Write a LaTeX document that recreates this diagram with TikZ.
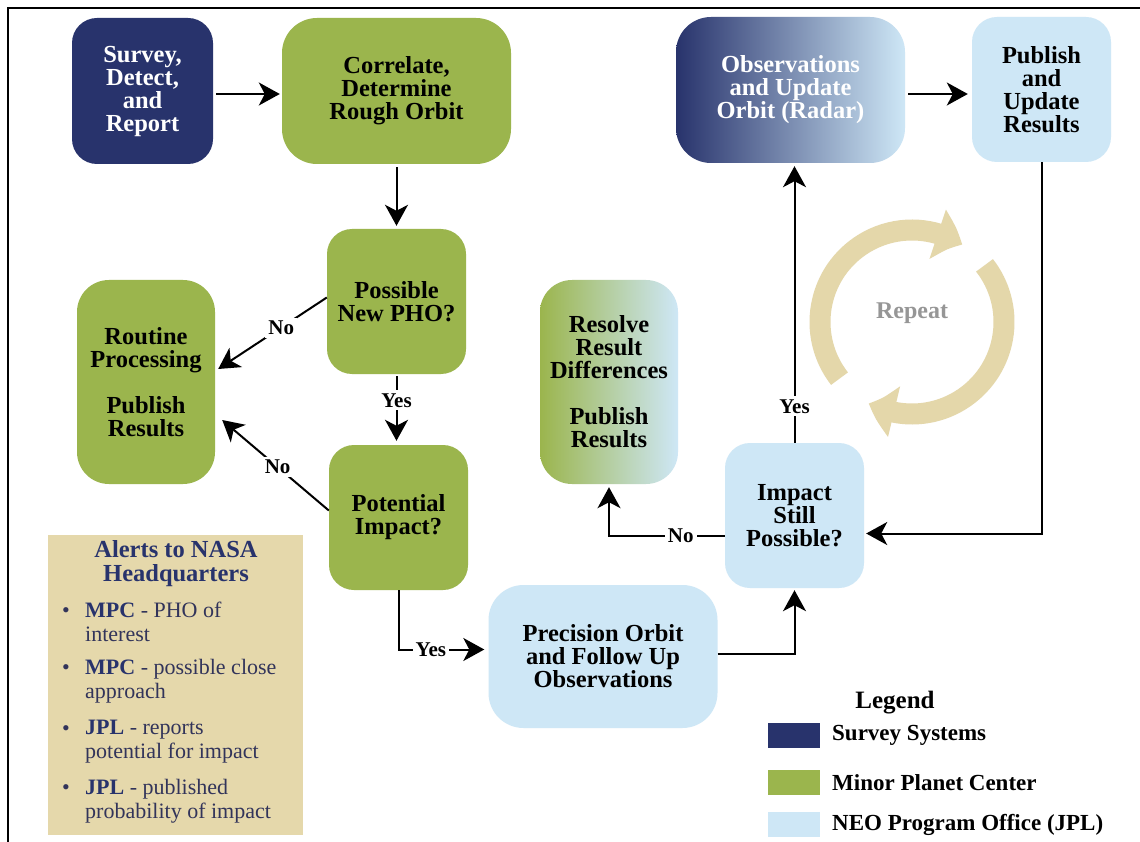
\documentclass[tikz,border=0pt]{standalone}
\usepackage{fontspec}
\setmainfont{Liberation Serif}
\usetikzlibrary{arrows.meta,calc,bending}
\definecolor{navy}{RGB}{40,51,108}
\definecolor{mpcgreen}{RGB}{155,181,77}
\definecolor{jplblue}{RGB}{206,231,246}
\definecolor{beige}{RGB}{229,216,171}
\definecolor{ringc}{RGB}{228,215,170}
\definecolor{alerttext}{RGB}{50,52,90}
\definecolor{repeatgray}{RGB}{150,150,150}
\tikzset{
  card/.style={font=\fontsize{24.5pt}{23pt}\selectfont\bfseries, align=center, inner sep=0pt, rounded corners=25pt},
  widecard/.style={card, minimum width=229pt, minimum height=146pt, rounded corners=35pt},
  smallcard/.style={card, minimum width=139pt, minimum height=145pt},
  tallcard/.style={card, minimum width=138pt, minimum height=204pt, rounded corners=32pt},
  svy/.style={fill=navy, text=white},
  mpc/.style={fill=mpcgreen, text=black},
  jpl/.style={fill=jplblue, text=black},
  arr/.style={draw=black, line width=2pt, -{Stealth[length=21pt,width=23pt,inset=6pt]}},
  lbl/.style={fill=white, inner sep=3pt, font=\fontsize{21pt}{21pt}\selectfont\bfseries},
  legtext/.style={anchor=west, inner sep=0pt, font=\fontsize{23pt}{23pt}\selectfont\bfseries},
  swatch/.style={minimum width=52pt, minimum height=25pt, inner sep=0pt},
  alertitem/.style={anchor=north west, inner sep=0pt, align=left, text=alerttext, font=\fontsize{22pt}{24pt}\selectfont},
  bulletmark/.style={anchor=base, inner sep=0pt, text=alerttext, font=\fontsize{22pt}{24pt}\selectfont},
  ring/.style={draw=ringc, line width=21pt, -{Triangle[length=27pt,width=50pt,bend]}}
}
\begin{document}
\begin{tikzpicture}[x=1pt,y=-1pt]
\useasboundingbox (0,0) rectangle (1140,842);
\fill[white] (0,0) rectangle (1140,842);
% frame
\draw[line width=2pt] (8,842) -- (8,8) -- (1140,8);

% boxes
\node[smallcard, svy, minimum width=141pt, minimum height=146pt] (survey) at (142.5,91) {Survey,\\Detect,\\and\\Report};
\node[widecard, mpc] (correlate) at (396.5,91) {Correlate,\\Determine\\Rough Orbit};
\node[smallcard, mpc] (possible) at (396.5,301.5) {Possible\\New PHO?};
\node[tallcard, mpc] (routine) at (146,382) {Routine\\Processing\\[23pt]Publish\\Results};
\node[smallcard, mpc] (potential) at (398.5,517.5) {Potential\\Impact?};
\node[widecard, jpl, minimum height=143pt] (precision) at (603,656.5) {Precision Orbit\\and Follow Up\\Observations};
\node[tallcard, left color=mpcgreen, right color=jplblue, text=black] (resolve) at (609,382) {Resolve\\Result\\Differences\\[23pt]Publish\\Results};
\node[smallcard, jpl] (impact) at (794.5,515.5) {Impact\\Still\\Possible?};
\node[widecard, left color=navy, right color=jplblue, text=white] (obs) at (790.5,90) {Observations\\and Update\\Orbit (Radar)};
\node[smallcard, jpl] (publish) at (1041.5,89.5) {Publish\\and\\Update\\Results};

% connectors
\draw[arr, shorten <=3pt, shorten >=2pt] ($(survey.east)+(0,3)$) -- ($(correlate.west)+(0,3)$);
\draw[arr, shorten <=3pt, shorten >=3pt] (correlate.south) -- (correlate.south |- possible.north);
\draw[arr] ($(possible.west)+(0,-4)$) -- node[lbl, pos=0.42] {No} ($(routine.east)+(3,-13)$);
\draw[arr, shorten <=2pt, shorten >=4pt] (possible.south) -- node[lbl, pos=0.37] {Yes} (possible.south |- potential.north);
\draw[arr] ($(potential.west)+(0,-7)$) -- node[lbl, pos=0.48] {No} ($(routine.east)+(7,38)$);
\draw[arr, shorten >=4pt] (potential.south) |- node[lbl, pos=0.68] {Yes} ($(precision.west)+(0,-7)$);
\draw[arr, shorten >=2pt] ($(precision.east)+(0,-3)$) -| (impact.south);
\draw[arr, shorten >=3pt] ($(impact.west)+(0,20)$) -| node[lbl, pos=0.19] {No} (resolve.south);
\draw[arr, shorten >=3pt] (impact.north) -- node[lbl, pos=0.13] {Yes} (impact.north |- obs.south);
\draw[arr, shorten <=3pt, shorten >=4pt] ($(obs.east)+(0,4)$) -- ($(publish.west)+(0,4.5)$);
\draw[arr, shorten >=2pt] (publish.south) |- ($(impact.east)+(0,18)$);

% repeat cycle
\coordinate (rc) at (912,322);
\draw[ring] (rc) ++(218:92pt) arc[start angle=218, end angle=57, radius=92pt];
\draw[ring] (rc) ++(38:92pt) arc[start angle=38, end angle=-118, radius=92pt];
\node[text=repeatgray, font=\fontsize{24pt}{24pt}\selectfont\bfseries] (repeat) at (912,313) {Repeat};

% alerts box
\node[fill=beige, minimum width=255pt, minimum height=300pt, anchor=north west, inner sep=0pt] (alerts) at (48,535) {};
\node[text=navy, align=center, inner sep=0pt, font=\fontsize{24.5pt}{24pt}\selectfont\bfseries] (alerttitle) at (176,564) {Alerts to NASA\\Headquarters};
\node[bulletmark] (b1) at (66,617) {•};
\node[alertitem] (a1) at (85,602) {\textbf{\color{navy}MPC} - PHO of\\interest};
\node[bulletmark] (b2) at (66,674) {•};
\node[alertitem] (a2) at (85,659) {\textbf{\color{navy}MPC} - possible close\\approach};
\node[bulletmark] (b3) at (66,735) {•};
\node[alertitem] (a3) at (85,720) {\textbf{\color{navy}JPL} - reports\\potential for impact};
\node[bulletmark] (b4) at (66,794) {•};
\node[alertitem] (a4) at (85,779) {\textbf{\color{navy}JPL} - published\\probability of impact};

% legend
\node[font=\fontsize{25pt}{25pt}\selectfont\bfseries, inner sep=0pt] (legend) at (895,703) {Legend};
\node[swatch, fill=navy] (s1) at (794,735.5) {};
\node[legtext] (l1) at (832,735.5) {Survey Systems};
\node[swatch, fill=mpcgreen] (s2) at (794,782.5) {};
\node[legtext] (l2) at (832,782.5) {Minor Planet Center};
\node[swatch, fill=jplblue] (s3) at (794,824.5) {};
\node[legtext] (l3) at (832,824.5) {NEO Program Office (JPL)};
\end{tikzpicture}
\end{document}
